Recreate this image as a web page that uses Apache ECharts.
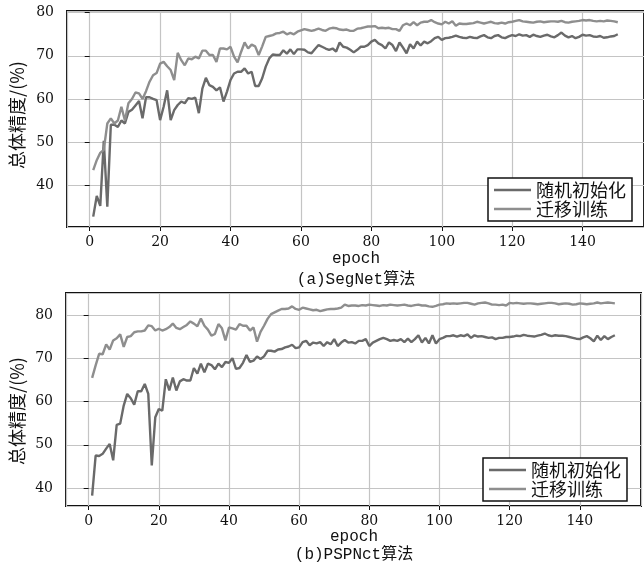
<!DOCTYPE html>
<html><head><meta charset="utf-8">
<script src="https://cdn.jsdelivr.net/npm/echarts@6/dist/echarts.min.js"></script>
<style>html,body{margin:0;padding:0;background:#fff}#c{width:644px;height:571px}</style>
</head><body><div id="c"></div><script>
// ---- data (epochs 1..150) ----
const seriesNames = ['随机初始化', '迁移训练'];
const xTickLabels = ['0','20','40','60','80','100','120','140'];
const segRandom = [
32.7,37.5,35.2,50.3,35.0,54.0,54.0,53.5,55.0,54.3,
57.0,57.5,58.5,59.5,55.5,60.4,60.4,60.0,59.7,55.1,
58.2,62.0,55.1,57.4,58.6,59.4,59.0,60.2,60.0,60.3,
56.7,62.4,64.9,63.2,62.8,62.0,62.7,59.4,61.7,64.4,
65.9,66.3,66.3,67.1,65.9,66.3,63.0,63.0,64.8,67.5,
69.4,70.3,70.2,70.2,71.3,70.5,71.5,70.4,71.5,71.5,
71.4,70.8,70.6,71.6,72.5,72.1,71.7,71.4,71.7,71.0,
73.1,72.1,71.9,71.4,70.8,71.4,72.1,72.1,72.5,73.3,
73.7,72.9,72.5,71.7,73.1,72.5,71.1,73.1,71.9,70.6,
72.7,71.7,73.3,72.4,73.3,72.9,73.4,74.1,74.4,73.7,
74.1,74.2,74.4,74.7,74.4,74.2,74.1,74.4,74.2,74.1,
74.5,74.8,74.3,74.1,74.6,74.8,74.3,74.1,74.5,74.8,
74.6,75.0,74.7,74.8,74.4,74.9,74.6,74.4,74.7,74.9,
74.5,74.3,74.8,75.4,74.7,74.3,74.6,74.1,74.4,74.9,
74.7,74.8,74.5,74.4,74.6,74.2,74.3,74.5,74.6,75.0];
const segTransfer = [
43.5,45.8,47.5,48.2,54.3,55.5,54.3,55.0,58.2,55.0,
59.0,60.0,61.5,61.3,60.0,61.8,64.0,65.5,66.0,68.2,
68.6,67.6,66.7,64.4,70.7,69.0,67.8,69.4,69.2,69.8,
69.4,71.2,71.2,70.2,70.2,68.6,71.7,71.7,71.5,72.1,
69.8,68.5,70.9,73.1,71.7,72.6,72.2,70.2,72.2,74.4,
74.6,74.8,75.2,75.3,75.6,75.0,75.3,75.0,75.6,75.9,
76.2,76.0,75.8,76.0,76.3,76.0,75.8,76.3,76.5,76.4,
76.1,76.0,76.1,75.8,75.8,76.3,76.4,76.6,76.8,76.8,
76.9,76.4,76.5,76.4,76.5,76.2,76.2,75.8,77.1,77.5,
77.1,77.8,77.1,77.7,77.9,77.9,78.3,77.8,77.5,77.3,
77.9,77.5,78.0,77.0,77.5,77.4,77.4,77.5,77.6,77.9,
77.7,77.5,77.7,77.9,77.6,77.5,77.7,77.5,77.8,77.9,
78.1,78.3,78.0,77.9,77.8,77.7,77.9,78.0,77.8,77.9,
78.0,78.0,77.9,78.1,77.8,77.7,77.9,78.0,78.1,78.3,
78.2,78.3,78.1,78.0,78.1,78.0,78.2,78.1,78.0,77.8];
const pspRandom = [
38.2,47.5,47.4,47.9,49.1,50.2,46.4,54.6,54.9,59.1,
61.8,60.8,59.3,62.4,62.4,64.1,61.8,45.2,56.4,58.3,
57.9,65.2,62.6,65.6,62.6,64.7,65.2,64.9,64.9,67.8,
66.5,68.8,66.8,68.8,68.5,67.5,68.8,68.0,69.2,69.0,
70.1,67.6,67.8,69.0,70.8,69.2,69.5,70.5,69.9,70.5,
71.8,71.8,71.6,72.1,72.2,72.6,72.8,73.2,72.4,72.6,
73.8,74.1,73.1,73.7,73.5,73.8,72.9,73.8,73.3,74.5,
72.9,73.7,74.3,73.7,73.8,73.5,74.1,74.1,74.5,72.9,
73.7,74.1,74.5,74.8,74.5,74.1,74.3,74.1,74.5,73.8,
74.6,73.8,74.5,75.4,73.7,74.8,73.5,75.4,73.5,74.5,
74.8,75.2,75.2,75.4,75.1,75.4,75.2,75.6,74.8,75.4,
75.1,75.2,75.0,74.8,74.9,74.5,74.8,74.8,75.0,75.0,
75.1,75.3,75.2,75.5,75.3,75.2,75.1,75.3,75.5,75.8,
75.4,75.2,75.4,75.3,75.3,75.2,75.0,74.8,74.6,74.5,
74.9,75.2,74.7,74.0,75.3,74.3,75.2,74.5,75.0,75.4];
const pspTransfer = [
65.5,68.4,71.1,71.0,73.3,72.1,74.2,74.7,75.6,72.7,
75.0,75.2,76.1,76.3,76.3,76.5,77.7,77.5,76.5,76.9,
76.5,76.8,77.3,78.1,77.1,76.8,77.3,77.8,78.6,78.1,
77.5,79.3,77.6,76.7,75.3,75.7,78.0,77.0,74.2,77.2,
77.0,76.7,78.0,77.6,77.6,76.5,77.2,73.9,76.2,77.6,
79.2,80.3,80.7,81.1,81.5,81.5,81.6,82.1,81.5,81.3,
81.8,81.6,81.4,81.2,81.3,81.0,81.2,81.4,81.5,81.5,
81.6,81.8,82.5,82.2,82.3,82.3,82.2,82.4,82.3,82.5,
82.4,82.3,82.2,82.4,82.3,82.5,82.4,82.3,82.4,82.5,
82.3,82.2,82.4,82.5,82.3,82.3,82.1,82.0,82.2,82.5,
82.6,82.8,82.7,82.8,82.7,82.8,82.9,82.9,82.7,82.5,
82.8,82.9,83.0,82.8,82.5,82.5,82.4,82.5,82.3,82.9,
82.8,82.9,82.8,82.7,82.8,82.8,82.7,82.6,82.7,82.8,
82.9,82.9,82.8,82.6,82.7,82.8,82.7,82.5,82.6,82.8,
82.7,82.6,82.7,82.8,83.0,82.8,82.9,83.0,82.9,82.8];
const titles = ['(a)SegNet算法', '(b)PSPNct算法'];
const xName = 'epoch';
const yName = '总体精度/(%)';

// ---- chart ----
const pairs = arr => arr.map((v, i) => [i + 1, v]);
const C_DARK = '#6a6a6a', C_LIGHT = '#8e8e8e';
const serif = '"DejaVu Serif", serif';
const mono = '"Liberation Mono", "Noto Sans CJK SC", monospace';
const cjk = '"Noto Sans CJK SC", sans-serif';

function xAxis(gi) {
  return {
    type: 'value', gridIndex: gi, min: -6.45, max: 157.45, splitNumber: 8,
    axisLine: {show: false},
    axisTick: {show: true, length: 4, lineStyle: {color: '#111', width: 1}},
    axisLabel: {show: true, showMinLabel: false, showMaxLabel: false, margin: 8,
      color: '#111', fontFamily: serif, fontSize: 14,
      formatter: v => xTickLabels.includes(String(v)) ? String(v) : ''},
    splitLine: {show: true, lineStyle: {color: '#c4c4c4', width: 1.2}}
  };
}
function yAxis(gi, mn, mx) {
  return {
    type: 'value', gridIndex: gi, min: mn, max: mx, splitNumber: 5,
    axisLine: {show: false},
    axisTick: {show: true, length: 5, lineStyle: {color: '#111', width: 1}},
    axisLabel: {show: true, showMinLabel: false, showMaxLabel: false, margin: 13,
      color: '#111', fontFamily: serif, fontSize: 14},
    splitLine: {show: true, lineStyle: {color: '#c4c4c4', width: 1.2}}
  };
}
function line(name, data, gi, color) {
  return {type: 'line', name, xAxisIndex: gi, yAxisIndex: gi, data: pairs(data),
    symbol: 'none', smooth: false, color,
    lineStyle: {color, width: 2.4}};
}
function legend(left, top) {
  return {
    orient: 'vertical', left, top, data: seriesNames,
    icon: 'rect',
    backgroundColor: '#fff', borderColor: '#111', borderWidth: 1.5,
    padding: [3, 6, 3, 6], itemWidth: 37, itemHeight: 2.4, itemGap: 1, itemTextGap: 9,
    textStyle: {fontFamily: cjk, fontSize: 18, lineHeight: 18, color: '#111'},
    selectedMode: false
  };
}
function txt(x, y, text, font, rot) {
  return {type: 'text', x, y, rotation: rot || 0, z: 100,
    style: {text, font, fill: '#111', align: 'center', verticalAlign: 'middle',
      textAlign: 'center', textVerticalAlign: 'middle'}};
}

const chart = echarts.init(document.getElementById('c'), null, {renderer: 'canvas'});
chart.setOption({
  animation: false,
  backgroundColor: '#fff',
  grid: [
    {left: 67, top: 11, width: 578, height: 216, show: true, borderColor: '#111', borderWidth: 2, backgroundColor: 'transparent', containLabel: false},
    {left: 66, top: 293, width: 575, height: 213, show: true, borderColor: '#111', borderWidth: 2, backgroundColor: 'transparent', containLabel: false}
  ],
  xAxis: [xAxis(0), xAxis(1)],
  yAxis: [yAxis(0, 30.3, 80.4), yAxis(1, 35.8, 85.2)],
  legend: [legend(488, 178), legend(483, 458)],
  series: [
    line(seriesNames[0], segRandom, 0, C_DARK),
    line(seriesNames[1], segTransfer, 0, C_LIGHT),
    line(seriesNames[0], pspRandom, 1, C_DARK),
    line(seriesNames[1], pspTransfer, 1, C_LIGHT)
  ],
  graphic: [
    txt(17, 115, yName, '18px ' + cjk, Math.PI / 2),
    txt(17, 411, yName, '18px ' + cjk, Math.PI / 2),
    txt(356, 259, xName, '16px ' + mono),
    txt(356, 280, titles[0], '16px ' + mono),
    txt(354, 537, xName, '16px ' + mono),
    txt(354, 555, titles[1], '16px ' + mono)
  ]
});
</script></body></html>
